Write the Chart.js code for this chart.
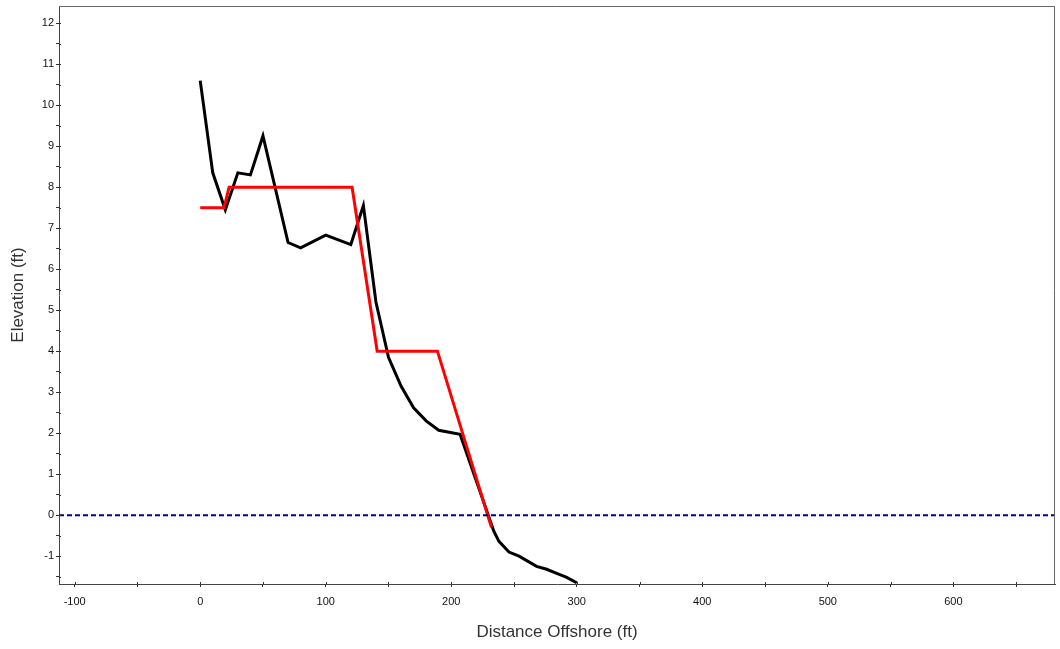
<!DOCTYPE html>
<html>
<head>
<meta charset="utf-8">
<script src="https://cdn.jsdelivr.net/npm/chart.js@4/dist/chart.umd.min.js"></script>
<style>
  html, body { margin: 0; padding: 0; background: #fff; }
  #wrap { width: 1060px; height: 649px; }
</style>
</head>
<body>
<div id="wrap"><canvas id="profileChart" width="1060" height="649"></canvas></div>
<script>
/* Perfil de praia - elevação x distância */

// --- dados ---
const profileX = [0, 10, 20, 30, 40, 50, 70, 80, 100, 120, 130, 140, 150, 160, 170, 180, 190, 207, 234, 238, 246, 254, 268, 276, 284, 292, 300];
const profileY = [10.6, 8.35, 7.45, 8.35, 8.3, 9.25, 6.65, 6.52, 6.83, 6.6, 7.55, 5.2, 3.85, 3.15, 2.62, 2.3, 2.07, 1.97, -0.4, -0.64, -0.9, -1.0, -1.25, -1.32, -1.42, -1.52, -1.65];

const designX = [0, 19, 23, 121, 141, 189, 232];
const designY = [7.5, 7.5, 8, 8, 4, 4, -0.3];

const xMin = -112.5, xMax = 681;
const yMin = -1.68, yMax = 12.42;
const waterLevel = 0;

const xTickVals = [-100, -50, 0, 50, 100, 150, 200, 250, 300, 350, 400, 450, 500, 550, 600, 650];
const yTickVals = [-1.5, -1, -0.5, 0, 0.5, 1, 1.5, 2, 2.5, 3, 3.5, 4, 4.5, 5, 5.5, 6, 6.5, 7, 7.5, 8, 8.5, 9, 9.5, 10, 10.5, 11, 11.5, 12];

const toPoints = (xs, ys) => xs.map((x, i) => ({ x: x, y: ys[i] }));

// moldura do gráfico (topo e direita)
const frame = {
    id: 'frame',
    afterDraw(chart) {
        const { ctx, chartArea: a } = chart;
        ctx.save();
        ctx.strokeStyle = '#666';
        ctx.lineWidth = 1;
        ctx.beginPath();
        ctx.moveTo(a.left, a.top + 0.5);
        ctx.lineTo(a.right - 0.5, a.top + 0.5);
        ctx.lineTo(a.right - 0.5, a.bottom);
        ctx.stroke();
        // parte interna dos ticks
        ctx.strokeStyle = '#333';
        ctx.beginPath();
        chart.scales.x.ticks.forEach(t => {
            const px = Math.round(chart.scales.x.getPixelForValue(t.value)) + 0.5;
            ctx.moveTo(px, a.bottom);
            ctx.lineTo(px, a.bottom - 2);
        });
        chart.scales.y.ticks.forEach(t => {
            const py = Math.round(chart.scales.y.getPixelForValue(t.value)) + 0.5;
            ctx.moveTo(a.left, py);
            ctx.lineTo(a.left + 2, py);
        });
        ctx.stroke();
        ctx.restore();
    }
};

const tickFont = { family: 'Liberation Sans, Arial, sans-serif', size: 11 };
const titleFont = { family: 'Liberation Sans, Arial, sans-serif', size: 17 };

new Chart(document.getElementById('profileChart').getContext('2d'), {
    type: 'line',
    data: {
        datasets: [
            {
                label: 'Water',
                data: toPoints([xMin, xMax], [waterLevel, waterLevel]),
                borderColor: '#000080',
                borderWidth: 2,
                borderDash: [5, 3],
                pointRadius: 0,
                order: 0
            },
            {
                label: 'Design',
                data: toPoints(designX, designY),
                borderColor: '#ff0000',
                borderWidth: 3,
                pointRadius: 0,
                order: 1
            },
            {
                label: 'Profile',
                data: toPoints(profileX, profileY),
                borderColor: '#000000',
                borderWidth: 3,
                pointRadius: 0,
                order: 2
            }
        ]
    },
    options: {
        responsive: false,
        animation: false,
        devicePixelRatio: 1,
        layout: { padding: { top: 6, right: 5, left: 0, bottom: 0 } },
        plugins: { legend: { display: false }, tooltip: { enabled: false } },
        elements: { line: { tension: 0 } },
        scales: {
            x: {
                type: 'linear',
                min: xMin,
                max: xMax,
                afterBuildTicks: s => { s.ticks = xTickVals.map(v => ({ value: v })); },
                afterFit: s => { s.height = 65; s.paddingLeft = 0; s.paddingRight = 0; },
                grid: { drawOnChartArea: false, tickLength: 3, color: '#333' },
                border: { color: '#444', width: 1 },
                ticks: {
                    autoSkip: false, maxRotation: 0, padding: 8,
                    color: '#111', font: tickFont,
                    callback: v => (v % 100 === 0 ? String(v) : '')
                },
                title: { display: true, text: 'Distance Offshore (ft)', color: '#333', font: titleFont, padding: 6 }
            },
            y: {
                type: 'linear',
                min: yMin,
                max: yMax,
                afterBuildTicks: s => { s.ticks = yTickVals.map(v => ({ value: v })); },
                afterFit: s => { s.width = 59; s.paddingTop = 0; s.paddingBottom = 0; },
                grid: { drawOnChartArea: false, tickLength: 3, color: '#333' },
                border: { color: '#444', width: 1 },
                ticks: {
                    autoSkip: false, padding: 2,
                    color: '#111', font: tickFont,
                    callback: v => (Number.isInteger(v) ? String(v) : '')
                },
                title: { display: true, text: 'Elevation (ft)', color: '#333', font: titleFont, padding: 8 }
            }
        }
    },
    plugins: [frame]
});
</script>
</body>
</html>
